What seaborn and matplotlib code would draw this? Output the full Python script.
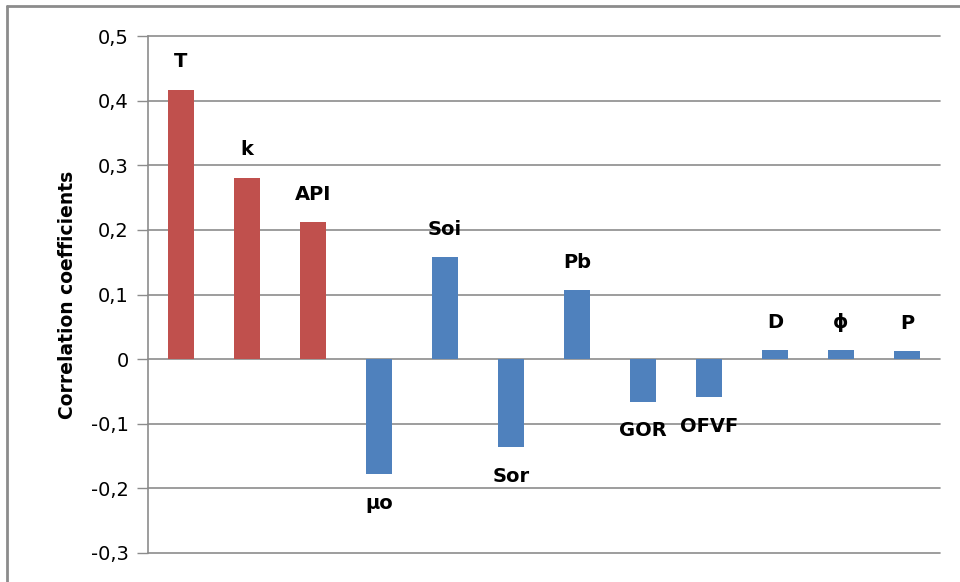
import matplotlib
matplotlib.use("Agg")
import matplotlib.pyplot as plt
import seaborn as sns
from matplotlib.lines import Line2D

# Correlation coefficients per parameter
params = ["T", "k", "API", "μo", "Soi", "Sor", "Pb", "GOR", "OFVF", "D", "ϕ", "P"]
coeffs = [0.417, 0.281, 0.212, -0.178, 0.158, -0.136, 0.107, -0.066, -0.059, 0.014, 0.014, 0.012]
bar_colors = ["#C0504D"] * 3 + ["#4F81BD"] * 9

yticks = [-0.3, -0.2, -0.1, 0, 0.1, 0.2, 0.3, 0.4, 0.5]
ytick_labels = ["-0,3", "-0,2", "-0,1", "0", "0,1", "0,2", "0,3", "0,4", "0,5"]

sns.set_style("white")
plt.rcParams["font.family"] = ["DejaVu Sans"]
plt.rcParams["text.color"] = "black"
plt.rcParams["axes.labelcolor"] = "black"
plt.rcParams["ytick.labelcolor"] = "black"

fig = plt.figure(figsize=(9.6, 5.82), dpi=100)
ax = fig.add_axes([148 / 960, 1 - 553 / 582, 792 / 960, (553 - 36) / 582])

sns.barplot(x=params, y=coeffs, hue=params, palette=bar_colors, width=0.4,
            legend=False, saturation=1, linewidth=0, ax=ax, zorder=3)

ax.set_ylim(-0.3, 0.5)
ax.set_xlim(-0.5, len(params) - 0.5)
ax.set_yticks(yticks)
ax.set_yticklabels(ytick_labels, fontsize=14)
ax.set_xticks([])
ax.set_xlabel("")
ax.set_ylabel("Correlation coefficients", fontsize=13.5, fontweight="bold", labelpad=10)
ax.yaxis.grid(True, color="#8C8C8C", linewidth=1.2, zorder=0)
ax.tick_params(axis="y", length=8, width=1, color="#8C8C8C", pad=6, left=True)
for gl in ax.get_ygridlines():
    gl.set_clip_on(False)

for side in ["top", "right", "bottom"]:
    ax.spines[side].set_visible(False)
ax.spines["left"].set_color("#8C8C8C")
ax.spines["left"].set_linewidth(1.2)

# data labels above positive bars, below negative bars
for i, (name, val) in enumerate(zip(params, coeffs)):
    off = 20 if val >= 0 else -21
    ax.annotate(name, (i, val), xytext=(0, off), textcoords="offset points",
                ha="center", va="center", fontsize=14, fontweight="bold")

# outer chart border (left and top)
fig.add_artist(Line2D([7 / 960, 7 / 960], [0, 1 - 6 / 582], color="#8C8C8C",
                      linewidth=2, transform=fig.transFigure))
fig.add_artist(Line2D([7 / 960, 1], [1 - 6 / 582, 1 - 6 / 582], color="#8C8C8C",
                      linewidth=2, transform=fig.transFigure))

fig.savefig("out.png", dpi=100)
